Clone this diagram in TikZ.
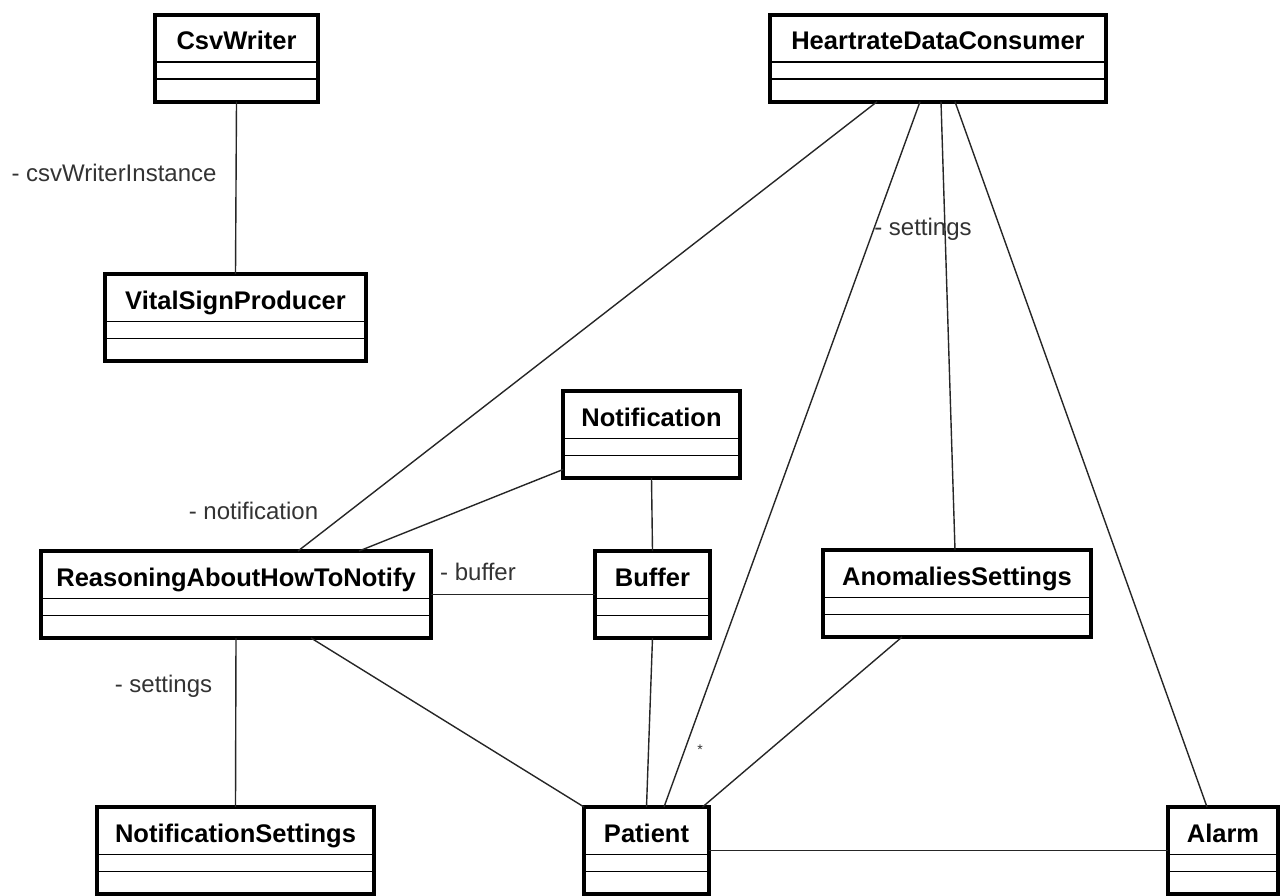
\documentclass[tikz,border=0pt]{standalone}
\usepackage{fontspec}
\setmainfont{Liberation Sans}
\usepackage{tikz}

\begin{document}
\begin{tikzpicture}[x = 1pt, y = -1pt]
    \tikzstyle{classbox} = [draw, line width = 4pt, anchor = north, inner sep = 0pt, outer sep = 0pt, text height = 35pt, text depth = 52pt, font = \bfseries\fontsize{25.5}{30}\selectfont];
    \tikzstyle{rolename} = [inner sep = 0pt, text = black!80, font = \fontsize{24}{28}\selectfont];
    \tikzstyle{assoc} = [line width = 1.4pt, black!85];
    \useasboundingbox (0,0) rectangle (1282,895);
    % classes:
    \node[classbox, minimum width = 163pt] (csv) at (236.5,14.7){CsvWriter};
    \node[classbox, minimum width = 336pt] (hdc) at (938,14.7){HeartrateDataConsumer};
    \node[classbox, minimum width = 261pt] (vsp) at (235.5,274){VitalSignProducer};
    \node[classbox, minimum width = 177pt] (notif) at (651.5,391){Notification};
    \node[classbox, minimum width = 390pt] (rsn) at (236,551){ReasoningAboutHowToNotify};
    \node[classbox, minimum width = 115pt] (buf) at (652.5,551){Buffer};
    \node[classbox, minimum width = 268pt] (ano) at (957,550){AnomaliesSettings};
    \node[classbox, minimum width = 277pt] (nset) at (235.5,807){NotificationSettings};
    \node[classbox, minimum width = 125pt] (pat) at (646.5,807){Patient};
    \node[classbox, minimum width = 110pt] (alarm) at (1223,807){Alarm};
    % compartments:
    \foreach \c in {csv, hdc, vsp, notif, rsn, buf, ano, nset, pat, alarm}{
      \draw[line width = 1.6pt] ([yshift = -47.5pt]\c.north west) -- ([yshift = -47.5pt]\c.north east);
      \draw[line width = 1.6pt] ([yshift = -64.5pt]\c.north west) -- ([yshift = -64.5pt]\c.north east);
    }
    % associations:
    \draw[assoc] (csv.south) -- (vsp.north);
    \draw[assoc] ([xshift = -61pt]hdc.south) -- ([xshift = 62pt]rsn.north);
    \draw[assoc] ([xshift = -18pt]hdc.south) -- ([xshift = 17.5pt]pat.north);
    \draw[assoc] ([xshift = 3pt]hdc.south) -- ([xshift = -2pt]ano.north);
    \draw[assoc] ([xshift = 17pt]hdc.south) -- ([xshift = -16pt]alarm.north);
    \draw[assoc] ([yshift = -35pt]notif.west) -- ([xshift = 123pt]rsn.north);
    \draw[assoc] (notif.south) -- (buf.north);
    \draw[assoc] (rsn.east) -- (buf.west);
    \draw[assoc] (rsn.south) -- (nset.north);
    \draw[assoc] ([xshift = 75pt]rsn.south) -- (pat.north west);
    \draw[assoc] (buf.south) -- (pat.north);
    \draw[assoc] ([xshift = -55pt]ano.south) -- ([xshift = 56pt]pat.north);
    \draw[assoc] (pat.east) -- (alarm.west);
    % role names:
    \node[rolename] (csvrole) at (114,173){- csvWriterInstance};
    \node[rolename] (notifrole) at (253.5,511){- notification};
    \node[rolename] (bufrole) at (478,571.5){- buffer};
    \node[rolename] (nsetrole) at (163.5,686){- settings};
    \node[rolename] (anorole) at (923,229){- settings};
    \node[rolename, font = \fontsize{14}{16}\selectfont] (patmult) at (700,750){*};
  \end{tikzpicture}
\end{document}
